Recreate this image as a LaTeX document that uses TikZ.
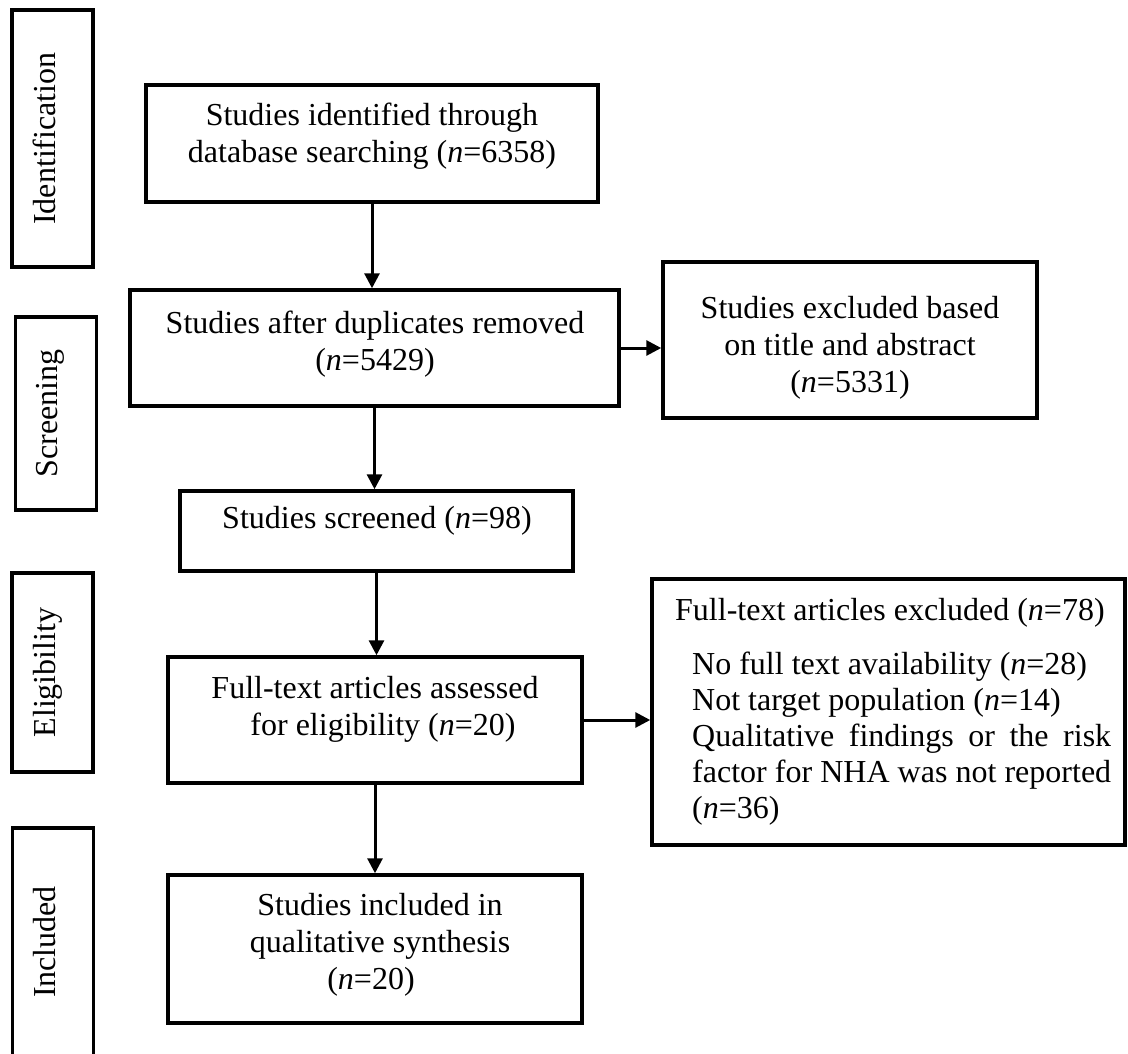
\documentclass[tikz,border=0pt]{standalone}
\usepackage{fontspec}
\setmainfont{Liberation Serif}
\usetikzlibrary{arrows.meta}
% centred multi-line text whose baseline is that of its first line
\newcommand{\flowtext}[2]{\parbox[t]{#1}{\centering #2}}
\begin{document}
\begin{tikzpicture}[x=1pt,y=-1pt,
  font=\fontsize{32}{37}\selectfont,
  flowbox/.style={draw=black, line width=3.5pt, inner sep=0pt},
  sidebox/.style={draw=black, line width=3.5pt, inner sep=0pt, minimum width=81pt},
  sidelabel/.style={rotate=90, anchor=base, inner sep=0pt},
  txt/.style={inner sep=0pt, anchor=base},
  flowarrow/.style={line width=3pt, -{Triangle[length=15pt,width=15pt]}}]
\clip (0,0) rectangle (1128,1053);
\fill[white] (0,0) rectangle (1128,1053);

% stage labels on the left
\node[sidebox, minimum height=257pt] (idbox) at (52.5,138.5) {};
\node[sidelabel] (idlab) at (55,138.5) {Identification};
\node[sidebox, minimum height=193pt] (scbox) at (56,413.5) {};
\node[sidelabel] (sclab) at (57,413.5) {Screening};
\node[sidebox, minimum height=199pt] (elbox) at (52.5,672.5) {};
\node[sidelabel] (ellab) at (55,672.5) {Eligibility};
\node[sidebox, minimum height=260pt] (inbox) at (53,958) {};
\node[sidelabel] (inlab) at (55,942) {Included};

% flow boxes
\node[flowbox, minimum width=452pt, minimum height=117pt] (b1) at (372,143.5) {};
\node[txt] (t1) at (372,125) {\flowtext{440pt}{Studies identified through\\database searching (\textit{n}=6358)}};

\node[flowbox, minimum width=489pt, minimum height=116pt] (b2) at (374.5,348) {};
\node[txt] (t2) at (375,333) {\flowtext{470pt}{Studies after duplicates removed\\(\textit{n}=5429)}};

\node[flowbox, minimum width=374pt, minimum height=156pt] (b3) at (850,340) {};
\node[txt] (t3) at (850,318) {\flowtext{360pt}{Studies excluded based\\on title and abstract\\(\textit{n}=5331)}};

\node[flowbox, minimum width=393pt, minimum height=80pt] (b4) at (376.5,531) {};
\node[txt] (t4) at (377,528) {\flowtext{380pt}{Studies screened (\textit{n}=98)}};

\node[flowbox, minimum width=414pt, minimum height=126pt] (b5) at (375,720) {};
\node[txt] (t5) at (375,698) {\flowtext{400pt}{Full-text articles assessed\\\hspace*{16pt}for eligibility (\textit{n}=20)}};

\node[flowbox, minimum width=473pt, minimum height=266pt] (b6) at (888.5,712) {};
\node[inner sep=0pt, anchor=base west] (t6) at (692,620) {\parbox[t]{419pt}{%
  \baselineskip=36pt
  \hspace*{-17pt}Full-text articles excluded (\textit{n}=78)\par\vspace{18pt}
  No full text availability (\textit{n}=28)\\
  Not target population (\textit{n}=14)\\
  Qualitative findings or the risk\linebreak factor for NHA was not reported\linebreak (\textit{n}=36)}};

\node[flowbox, minimum width=414pt, minimum height=148pt] (b7) at (375,949) {};
\node[txt] (t7) at (380,915) {\flowtext{400pt}{Studies included in\hspace*{14pt}\\qualitative synthesis\\(\textit{n}=20)\hspace*{18pt}}};

% connectors
\draw[flowarrow] (b1.south) -- (b1.south |- b2.north);
\draw[flowarrow] (b2.east) -- (b2.east -| b3.west);
\draw[flowarrow] (b2.south) -- (b2.south |- b4.north);
\draw[flowarrow] (b4.south) -- (b4.south |- b5.north);
\draw[flowarrow] (b5.east) -- (b5.east -| b6.west);
\draw[flowarrow] (b5.south) -- (b5.south |- b7.north);
\end{tikzpicture}
\end{document}
